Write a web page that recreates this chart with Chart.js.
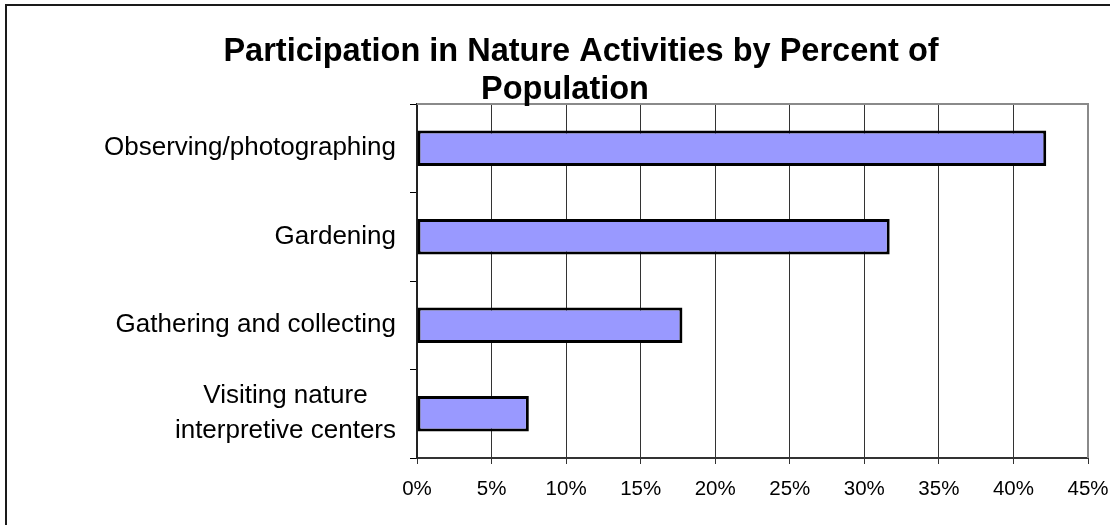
<!DOCTYPE html>
<html>
<head>
<meta charset="utf-8">
<script src="https://cdn.jsdelivr.net/npm/chart.js@4"></script>
<style>
  body { margin: 0; background: #fff; }
  #wrap { position: relative; width: 1110px; height: 525px; }
</style>
</head>
<body>
<div id="wrap"><canvas id="chart" width="1110" height="525"></canvas></div>
<script>
// 차트 데이터
const titleLines = ['Participation in Nature Activities by Percent of', 'Population'];
const categories = [
    'Observing/photographing',
    'Gardening',
    'Gathering and collecting',
    ['Visiting nature', 'interpretive centers']
];
const percentValues = [42.2, 31.7, 17.8, 7.5];
const xTickMax = 45;
const xTickStep = 5;

const FONT = '"Liberation Sans", Arial, sans-serif';
const LABEL_SIZE = 26;

// 바깥 테두리, 제목, 플롯 테두리, 범주 라벨
const decorPlugin = {
    id: 'decor',
    beforeDraw(chart) {
        const ctx = chart.ctx;
        ctx.save();
        ctx.strokeStyle = '#1a1a1a';
        ctx.lineWidth = 2;
        ctx.beginPath();
        ctx.moveTo(6, 525);
        ctx.lineTo(6, 5);
        ctx.lineTo(1110, 5);
        ctx.stroke();
        ctx.restore();
    },
    afterDraw(chart) {
        const ctx = chart.ctx;
        const a = chart.chartArea;
        ctx.save();
        ctx.strokeStyle = '#8a8a8a';
        ctx.lineWidth = 2;
        ctx.beginPath();
        ctx.moveTo(a.left, a.top);
        ctx.lineTo(a.right, a.top);
        ctx.lineTo(a.right, a.bottom);
        ctx.stroke();

        ctx.fillStyle = '#000';
        ctx.font = 'bold 32.5px ' + FONT;
        ctx.textAlign = 'center';
        ctx.textBaseline = 'alphabetic';
        ctx.fillText(titleLines[0], 581, 61);
        ctx.fillText(titleLines[1], 565, 99);

        // 여러 줄 라벨은 블록 안에서 가운데 정렬, 블록은 오른쪽 정렬
        const yScale = chart.scales.y;
        const rightEdge = a.left - 7 - 14;
        const lineH = 35;
        ctx.font = LABEL_SIZE + 'px ' + FONT;
        ctx.textBaseline = 'middle';
        categories.forEach((lab, i) => {
            const lines = Array.isArray(lab) ? lab : [lab];
            const w = Math.max(...lines.map(t => ctx.measureText(t).width));
            const cx = rightEdge - w / 2;
            const cy = yScale.getPixelForValue(i);
            lines.forEach((t, j) => {
                ctx.fillText(t, cx, cy + (j - (lines.length - 1) / 2) * lineH);
            });
        });
        ctx.restore();
    }
};

new Chart(document.getElementById('chart'), {
    type: 'bar',
    data: {
        labels: categories,
        datasets: [{
            data: percentValues,
            backgroundColor: '#9999ff',
            borderColor: '#000',
            borderWidth: 3,
            borderSkipped: false,
            categoryPercentage: 1,
            barPercentage: 0.4
        }]
    },
    options: {
        indexAxis: 'y',
        responsive: false,
        animation: false,
        layout: { padding: { top: 104, right: 22, left: 0, bottom: 0 } },
        plugins: {
            legend: { display: false },
            title: { display: false },
            tooltip: { enabled: false }
        },
        scales: {
            x: {
                min: 0,
                max: xTickMax,
                ticks: {
                    stepSize: xTickStep,
                    color: '#000',
                    font: { family: FONT, size: 20.5 },
                    padding: 13,
                    maxRotation: 0,
                    callback: (v) => v + '%'
                },
                grid: { color: '#333', lineWidth: 1, tickLength: 6 },
                border: { color: '#333', width: 2 },
                afterFit: (s) => { s.height = 67; s.paddingLeft = 0; s.paddingRight = 0; }
            },
            y: {
                offset: true,
                ticks: { display: false },
                grid: { offset: true, drawOnChartArea: false, color: '#000', tickLength: 7 },
                border: { color: '#222', width: 2 },
                afterFit: (s) => { s.width = 417; }
            }
        }
    },
    plugins: [decorPlugin]
});
</script>
</body>
</html>
